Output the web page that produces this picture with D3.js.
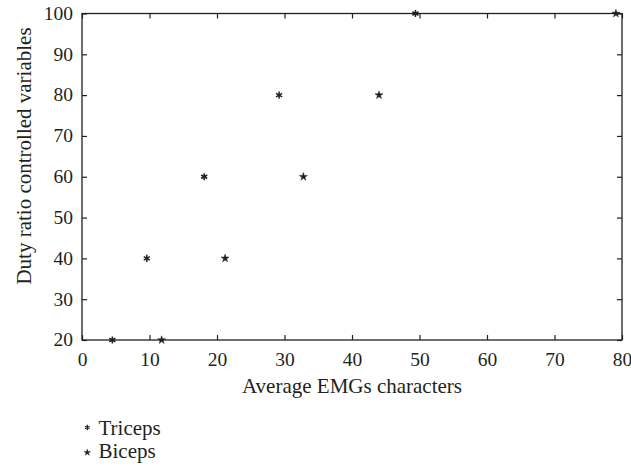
<!DOCTYPE html>
<html>
<head>
<meta charset="utf-8">
<script src="https://cdn.jsdelivr.net/npm/d3@7"></script>
<style>
  html, body { margin: 0; padding: 0; background: #fff; }
  svg { display: block; }
  svg text { font-family: "Liberation Serif", serif; fill: #231f20; }
</style>
</head>
<body>
<svg id="chart" width="631" height="472"></svg>
<script>
// Data: duty ratio levels against average EMG characteristics
const dutyRatio = [20, 40, 60, 80, 100];
const tricepsEMG = [4.5, 9.6, 18.1, 29.2, 49.4];
const bicepsEMG = [11.8, 21.2, 32.8, 44.0, 79.1];
const xTicks = [0, 10, 20, 30, 40, 50, 60, 70, 80];
const yTicks = [20, 30, 40, 50, 60, 70, 80, 90, 100];
const seriesNames = ["Triceps", "Biceps"];

const serif = '"Liberation Serif", serif';
const tickFs = 19.5, titleFs = 21;
const svg = d3.select("#chart");
const plotL = 82, plotR = 622, plotT = 13.5, plotB = 340;
const ink = "#231f20";

const x = d3.scaleLinear().domain([0, 80]).range([plotL, plotR]);
const y = d3.scaleLinear().domain([20, 100]).range([plotB, plotT]);

// Frame
svg.append("rect")
  .attr("x", plotL).attr("y", plotT)
  .attr("width", plotR - plotL).attr("height", plotB - plotT)
  .attr("fill", "none").attr("stroke", ink).attr("stroke-width", 1.3);

const tickLen = 5;
// Bottom axis (inward ticks)
const gx = svg.append("g").attr("transform", `translate(0,${plotB})`)
  .call(d3.axisBottom(x).tickValues(xTicks).tickSizeInner(-tickLen).tickSizeOuter(0).tickPadding(12));
// Top ticks
svg.append("g").attr("transform", `translate(0,${plotT})`)
  .call(d3.axisTop(x).tickValues(xTicks).tickSizeInner(-tickLen).tickSizeOuter(0).tickFormat(""));
// Left axis
const gy = svg.append("g").attr("transform", `translate(${plotL},0)`)
  .call(d3.axisLeft(y).tickValues(yTicks).tickSizeInner(-tickLen).tickSizeOuter(0).tickPadding(9));
// Right ticks
svg.append("g").attr("transform", `translate(${plotR},0)`)
  .call(d3.axisRight(y).tickValues(yTicks).tickSizeInner(-tickLen).tickSizeOuter(0).tickFormat(""));

svg.selectAll(".domain").remove();
svg.selectAll("g").attr("font-family", serif);
svg.selectAll(".tick line").attr("stroke", ink).attr("stroke-width", 1.2);
svg.selectAll(".tick text").attr("font-size", tickFs).attr("font-family", serif).attr("fill", ink);
gx.selectAll(".tick text").attr("dy", "0.71em");
gy.selectAll(".tick text").attr("dy", "0.3em");

// Axis titles
svg.append("text")
  .attr("x", 352).attr("y", 393)
  .attr("text-anchor", "middle").attr("font-size", titleFs).attr("font-family", serif)
  .text("Average EMGs characters");
svg.append("text")
  .attr("transform", `translate(31,156) rotate(-90)`)
  .attr("text-anchor", "middle").attr("font-size", titleFs).attr("font-family", serif)
  .text("Duty ratio controlled variables");

// Markers
svg.append("g").selectAll("path")
  .data(dutyRatio.map((d, i) => [tricepsEMG[i], d]))
  .join("path")
  .attr("transform", d => `translate(${x(d[0])},${y(d[1])})`)
  .attr("d", d3.symbol(d3.symbolAsterisk, 34)())
  .attr("fill", "none").attr("stroke", ink).attr("stroke-width", 1.5);

svg.append("g").selectAll("path")
  .data(dutyRatio.map((d, i) => [bicepsEMG[i], d]))
  .join("path")
  .attr("transform", d => `translate(${x(d[0])},${y(d[1])})`)
  .attr("d", d3.symbol(d3.symbolStar, 20)())
  .attr("fill", ink).attr("stroke", ink).attr("stroke-width", 0.5);

// Legend
const legend = svg.append("g");
const legendRows = [
  { name: seriesNames[0], y: 427.5, base: 435, d: d3.symbol(d3.symbolAsterisk, 20)(), fill: "none", sw: 1.2 },
  { name: seriesNames[1], y: 452.5, base: 458, d: d3.symbol(d3.symbolStar, 13)(), fill: ink, sw: 0.4 }
];
legendRows.forEach(r => {
  legend.append("path")
    .attr("transform", `translate(87.3,${r.y})`)
    .attr("d", r.d)
    .attr("fill", r.fill).attr("stroke", ink).attr("stroke-width", r.sw);
  legend.append("text")
    .attr("x", 98.5).attr("y", r.base)
    .attr("font-size", titleFs).attr("font-family", serif)
    .text(r.name);
});
</script>
</body>
</html>
